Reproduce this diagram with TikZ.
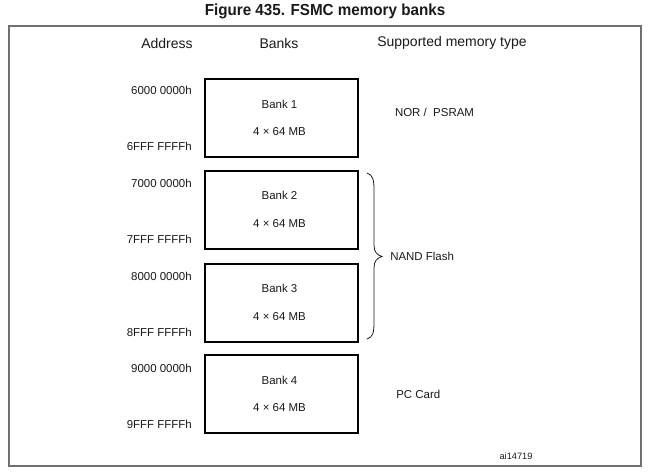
\documentclass[tikz,border=0pt]{standalone}
\usepackage{fontspec}
\setmainfont{Liberation Sans}
\usetikzlibrary{positioning}
\definecolor{txt}{HTML}{1A1A1A}
\definecolor{framegray}{HTML}{707070}
\tikzset{
  px/.style={x=0.75pt,y=-0.75pt},
  bankbox/.style={draw=black,line width=1.5pt,minimum width=114.75pt,minimum height=58.5pt,inner sep=0pt},
  small/.style={font=\fontsize{8.6pt}{10pt}\selectfont,text=txt,inner sep=0pt},
  header/.style={font=\fontsize{10.5pt}{12pt}\selectfont,text=txt,inner sep=0pt},
  addr/.style={small,anchor=east},
}
\begin{document}
\begin{tikzpicture}[px]
\useasboundingbox (0,0) rectangle (650,472);
\fill[white] (0,0) rectangle (650,472);
% title
\node[inner sep=0pt,text=txt,font=\fontsize{12pt}{14pt}\selectfont\bfseries] (title) at (325,11.5) {\scalebox{0.95}[1]{Figure 435. FSMC memory banks}};
% frame
\draw[framegray,line width=1.1pt] (9,26) rectangle (641,466);
% headers
\node[header] (hA) at (167,43) {Address};
\node[header] (hB) at (279,43) {Banks};
\node[header] (hS) at (452,43) {Supported memory type};
% banks
\node[bankbox] (b1) at (281.5,118) {};
\node[bankbox] (b2) at (281.5,209.5) {};
\node[bankbox] (b3) at (281.5,302.5) {};
\node[bankbox] (b4) at (281.5,394) {};
\foreach \i/\y in {1/118,2/209.5,3/302.5,4/394}{
  \node[small] (bn\i) at (279.5,\y-14) {Bank \i};
  \node[small] (bs\i) at (279.5,\y+14) {4 × 64 MB};
}
% addresses
\node[addr] (a1s) at (192,90) {6000 0000h};
\node[addr] (a1e) at (192,146.5) {6FFF FFFFh};
\node[addr] (a2s) at (192,183) {7000 0000h};
\node[addr] (a2e) at (192,239) {7FFF FFFFh};
\node[addr] (a3s) at (192,276) {8000 0000h};
\node[addr] (a3e) at (192,332) {8FFF FFFFh};
\node[addr] (a4s) at (192,368) {9000 0000h};
\node[addr] (a4e) at (192,424) {9FFF FFFFh};
% memory types
\node[small] (nor) at (434.5,112.5) {NOR /\ \ PSRAM};
\node[small,anchor=west] (nand) at (390,256.5) {NAND Flash};
\node[small,anchor=west] (pc) at (396,394) {PC Card};
\node[inner sep=0pt,text=txt,font=\fontsize{6.9pt}{8pt}\selectfont] (id) at (516,456) {ai14719};
% brace
\coordinate (bt) at (367,173);
\coordinate (bb) at (367,339);
\coordinate (tip) at (382,256.5);
\draw[txt,line width=0.6pt] (bt) .. controls (373,175) and (374,180) .. (374,190) -- (374,245)
  .. controls (374,252) and (377,255) .. (tip)
  .. controls (377,258) and (374,261) .. (374,268) -- (374,322)
  .. controls (374,333) and (373,337) .. (bb);
\end{tikzpicture}
\end{document}
